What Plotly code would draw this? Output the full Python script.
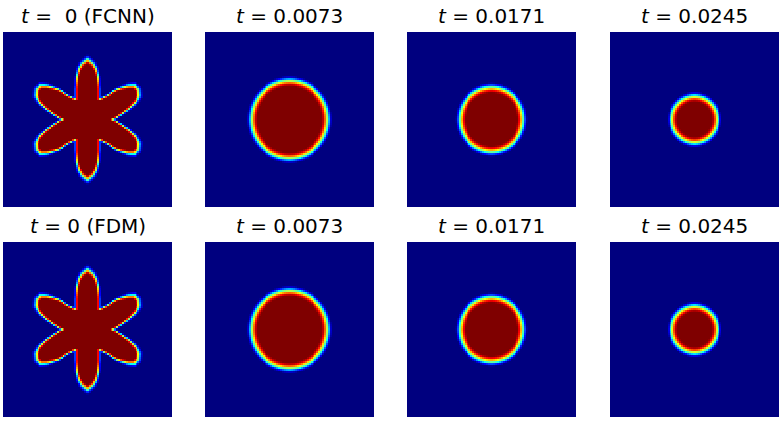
import numpy as np
import plotly.graph_objects as go

# Заголовки панелей
titles_top = ["<i>t</i> =\u00a0\u00a00 (FCNN)", "<i>t</i> = 0.0073", "<i>t</i> = 0.0171", "<i>t</i> = 0.0245"]
titles_bottom = ["<i>t</i> = 0 (FDM)", "<i>t</i> = 0.0073", "<i>t</i> = 0.0171", "<i>t</i> = 0.0245"]

# Контур звезды (уровень 0.5), четверть фигуры, смещение от центра в долях панели
star_dx = [0, .0355, .053, .065, .069, .069, .079, .118, .174, .237, .276, .302, .306, .290, .245, .197, .168, .142]
star_dy = [.348, .318, .288, .238, .181, .118, .122, .141, .175, .194, .196, .175, .137, .105, .063, .030, .011, 0]
# Ширина границы звезды: узкая на боках лепестков, шире на концах
star_width_at = [.20, .27, .35]
star_width = [.5, .65, 1.15]

# Радиусы кругов в долях панели
circle_radius = [.224, .186, .135]

# Профиль поля поперёк границы: расстояние в пикселях -> значение
star_dist = [-3.5, -2.5, -1.5, 0, 1, 2, 3.5]
star_phi = [1.0, .93, .80, .5, .28, .12, 0]
circle_dist = [-5.5, -4, -3, -2, -1, 0, 1, 2, 3, 4.5]
circle_phi = [1.0, .94, .86, .76, .63, .5, .36, .22, .10, 0]

# Палитра jet как в matplotlib
jet = [[0, "#00007f"], [.11, "#0000ff"], [.125, "#0000ff"], [.35, "#00ffff"], [.375, "#19ffe5"],
       [.64, "#ffff00"], [.66, "#ffe600"], [.89, "#ff0000"], [.91, "#e80000"], [1, "#7f0000"]]

N = 88
SCALE = 172  # пикселей на панель
W, H = 782, 422
col_x = [(3, 172), (205, 374), (407, 576), (610, 779)]
row_y = [(32, 207), (242, 417)]

grid = (np.arange(N) + .5) / N - .5
gx, gy = np.meshgrid(grid, grid)


def star_field():
    # замыкаем контур зеркальным отражением четверти
    dx = np.array(star_dx)
    dy = np.array(star_dy)
    px = np.concatenate([dx, dx[-2::-1], -dx[1:], -dx[-2:0:-1]])
    py = np.concatenate([dy, -dy[-2::-1], -dy[1:], dy[-2:0:-1]])
    qx, qy = np.roll(px, -1), np.roll(py, -1)

    best = np.full(gx.shape, np.inf)
    inside = np.zeros(gx.shape, dtype=bool)
    for x0, y0, x1, y1 in zip(px, py, qx, qy):
        ex, ey = x1 - x0, y1 - y0
        s = np.clip(((gx - x0) * ex + (gy - y0) * ey) / (ex * ex + ey * ey), 0, 1)
        best = np.minimum(best, np.hypot(gx - x0 - s * ex, gy - y0 - s * ey))
        crosses = (y0 > gy) != (y1 > gy)
        with np.errstate(divide="ignore", invalid="ignore"):
            inside ^= crosses & (gx < x0 + (gy - y0) * ex / ey)
    dist = np.where(inside, -best, best) * SCALE
    width = np.interp(np.hypot(gx, gy), star_width_at, star_width)
    return np.interp(dist / width, star_dist, star_phi)


def circle_field(radius):
    dist = (np.hypot(gx, gy) - radius) * SCALE
    return np.interp(dist, circle_dist, circle_phi)


fields = [star_field()] + [circle_field(r) for r in circle_radius]

fig = go.Figure()
annotations = []
axis_style = dict(visible=False, range=[0, 1], fixedrange=True)
for r, (y0, y1) in enumerate(row_y):
    titles = titles_top if r == 0 else titles_bottom
    for c, (x0, x1) in enumerate(col_x):
        idx = r * 4 + c + 1
        suffix = "" if idx == 1 else str(idx)
        fig.add_trace(go.Heatmap(z=fields[c], x=grid + .5, y=grid + .5, colorscale=jet, zmin=0, zmax=1,
                                 showscale=False, xaxis="x" + suffix, yaxis="y" + suffix))
        fig.update_layout({
            "xaxis" + suffix: dict(domain=[x0 / W, x1 / W], anchor="y" + suffix, **axis_style),
            "yaxis" + suffix: dict(domain=[1 - y1 / H, 1 - y0 / H], anchor="x" + suffix, **axis_style),
        })
        annotations.append(dict(text=titles[c], xref="paper", yref="paper", x=(x0 + x1) / 2 / W,
                                y=1 - (y0 - 16) / H, xanchor="center", yanchor="middle", showarrow=False,
                                font=dict(family="DejaVu Sans", size=20, color="black")))

fig.update_layout(width=W, height=H, margin=dict(l=0, r=0, t=0, b=0), plot_bgcolor="white",
                  paper_bgcolor="white", annotations=annotations)
# убираем отступ страницы, иначе всё съезжает на 8 пикселей
fig.write_html("out.html", config={"displayModeBar": False}, post_script="document.body.style.margin='0';")
